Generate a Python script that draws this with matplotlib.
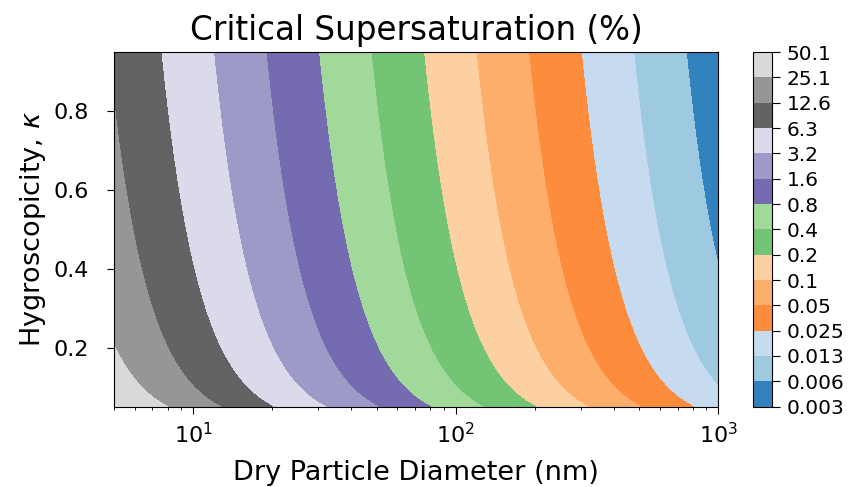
"""Critical supersaturation map from kappa-Koehler theory."""

import matplotlib as mpl

mpl.use("Agg")
import matplotlib.pyplot as plt
import numpy as np

# axis ranges
dry_diameter_range_nm = [5.0, 1000.0]
kappa_range = [0.05, 0.95]

# Kelvin parameter A = 4 sigma Mw / (R T rho_w), fitted to the contour positions
kelvin_a_nm = 2.224

# contour levels (%) and the labels shown on the colorbar
levels_pct = [0.00316, 0.00631, 0.0126, 0.0251, 0.0501, 0.1, 0.1995, 0.398,
              0.794, 1.585, 3.16, 6.31, 12.59, 25.12, 50.12]
level_labels = ["0.003", "0.006", "0.013", "0.025", "0.05", "0.1", "0.2", "0.4",
                "0.8", "1.6", "3.2", "6.3", "12.6", "25.1", "50.1"]

# tab20c entries used for the 14 bands, lowest level first
band_colors = [plt.cm.tab20c(i) for i in
               (0, 2, 3, 5, 6, 7, 9, 10, 12, 13, 15, 16, 17, 19)]

dry = np.logspace(np.log10(dry_diameter_range_nm[0]),
                  np.log10(dry_diameter_range_nm[1]), 400)
kappa = np.linspace(kappa_range[0], kappa_range[1], 200)
dd, kk = np.meshgrid(dry, kappa)
# approximate kappa-Koehler critical supersaturation, in percent
sc = 100.0 * np.sqrt(4.0 * kelvin_a_nm**3 / (27.0 * kk * dd**3))

fig = plt.figure(figsize=(8.5, 4.87), dpi=100)
ax = fig.add_axes([0.134, 0.165, 0.711, 0.728])
cax = fig.add_axes([0.886, 0.165, 0.022, 0.728])

cs = ax.contourf(dd, kk, sc, levels=levels_pct, colors=band_colors)
ax.set_xscale("log")
ax.set_xlim(dry_diameter_range_nm)
ax.set_ylim(kappa_range)
ax.set_yticks([0.2, 0.4, 0.6, 0.8])
ax.tick_params(labelsize=16, length=5)
ax.tick_params(axis="x", pad=6)
ax.tick_params(axis="y", pad=13)
ax.set_xlabel("Dry Particle Diameter (nm)", fontsize=19.5, labelpad=9)
ax.set_ylabel(r"Hygroscopicity, $\kappa$", fontsize=19.5)
ax.set_title("Critical Supersaturation (%)", fontsize=23.5, pad=9)

cb = fig.colorbar(cs, cax=cax, ticks=levels_pct)
cb.ax.set_yticklabels(level_labels)
cb.ax.tick_params(labelsize=14.5, length=5.5, pad=5)

fig.savefig("out.png", dpi=100)
